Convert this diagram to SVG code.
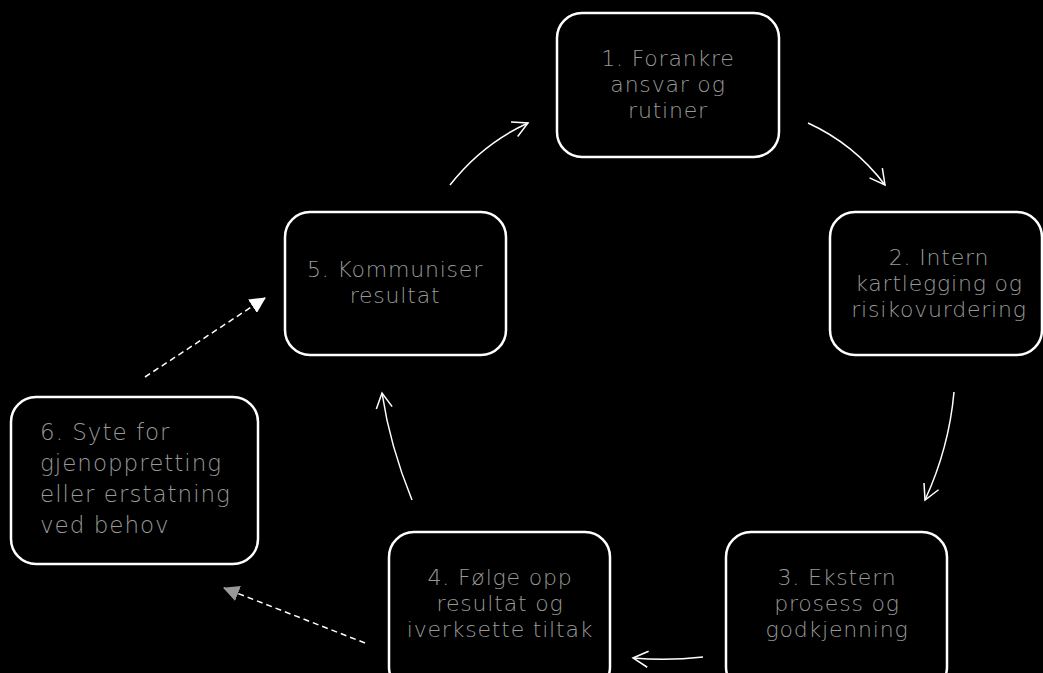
<svg xmlns="http://www.w3.org/2000/svg" width="1043" height="673" viewBox="0 0 1043 673">
<defs>
<style>
.box{fill:#000;stroke:#fff;stroke-width:2.5}
.t{font-family:"DejaVu Sans",sans-serif;font-weight:200;font-size:22px;letter-spacing:0.8px;fill:#999;text-anchor:middle}
.t6{font-family:"DejaVu Sans",sans-serif;font-weight:200;font-size:23px;letter-spacing:1px;fill:#999}
.c{fill:none;stroke:#fff;stroke-width:1.5}
.d{fill:none;stroke:#fff;stroke-width:1.5;stroke-dasharray:6 4}
.dg{fill:none;stroke:#fff;stroke-width:1.5;stroke-dasharray:6 4}
</style>
<marker id="open" viewBox="0 0 18 18" refX="16" refY="9" markerWidth="18" markerHeight="18" markerUnits="userSpaceOnUse" orient="auto">
<path d="M1,1 L16,9 L1,17" fill="none" stroke="#fff" stroke-width="1.5"/>
</marker>
<marker id="fill" viewBox="0 0 16 16" refX="15" refY="8" markerWidth="16" markerHeight="16" markerUnits="userSpaceOnUse" orient="auto">
<path d="M0,0 L16,8 L0,16 Z" fill="#fff"/>
</marker>
<marker id="fillg" viewBox="0 0 16 16" refX="15" refY="8" markerWidth="16" markerHeight="16" markerUnits="userSpaceOnUse" orient="auto">
<path d="M0,0 L16,8 L0,16 Z" fill="#999"/>
</marker>
</defs>
<rect width="1043" height="673" fill="#000"/>
<g id="connectors">
<path class="c" d="M808,123 Q854,144 885,185" marker-end="url(#open)"/>
<path class="c" d="M954,392 Q949,448 925,500" marker-end="url(#open)"/>
<path class="c" d="M703,657 Q668,661 633,658" marker-end="url(#open)"/>
<path class="c" d="M412,500 Q390,446 382,393" marker-end="url(#open)"/>
<path class="c" d="M450,185 Q482,144 528,123" marker-end="url(#open)"/>
<path class="d" d="M145,377 L265,298" marker-end="url(#fill)"/>
<path class="dg" d="M365,643 L224,588" marker-end="url(#fillg)"/>
</g>
<g id="node1">
<rect class="box" x="557" y="13" width="222" height="144" rx="25"/>
<text class="t" x="668" y="66">1. Forankre</text>
<text class="t" x="668" y="92">ansvar og</text>
<text class="t" x="668" y="118">rutiner</text>
</g>
<g id="node2">
<rect class="box" x="830" y="212" width="212" height="143" rx="25"/>
<text class="t" x="939" y="265">2. Intern</text>
<text class="t" x="939" y="291">kartlegging og</text>
<text class="t" x="939" y="317">risikovurdering</text>
</g>
<g id="node3">
<rect class="box" x="726" y="532" width="221" height="160" rx="25"/>
<text class="t" x="837" y="585">3. Ekstern</text>
<text class="t" x="837" y="611">prosess og</text>
<text class="t" x="837" y="637">godkjenning</text>
</g>
<g id="node4">
<rect class="box" x="389" y="532" width="221" height="160" rx="25"/>
<text class="t" x="500" y="585">4. Følge opp</text>
<text class="t" x="500" y="611">resultat og</text>
<text class="t" x="500" y="637">iverksette tiltak</text>
</g>
<g id="node5">
<rect class="box" x="285" y="212" width="221" height="143" rx="25"/>
<text class="t" x="395" y="277">5. Kommuniser</text>
<text class="t" x="395" y="303">resultat</text>
</g>
<g id="node6">
<rect class="box" x="11" y="397" width="247" height="167" rx="25"/>
<text class="t6" x="40" y="440">6. Syte for</text>
<text class="t6" x="40" y="471">gjenoppretting</text>
<text class="t6" x="40" y="502">eller erstatning</text>
<text class="t6" x="40" y="533">ved behov</text>
</g>
</svg>
